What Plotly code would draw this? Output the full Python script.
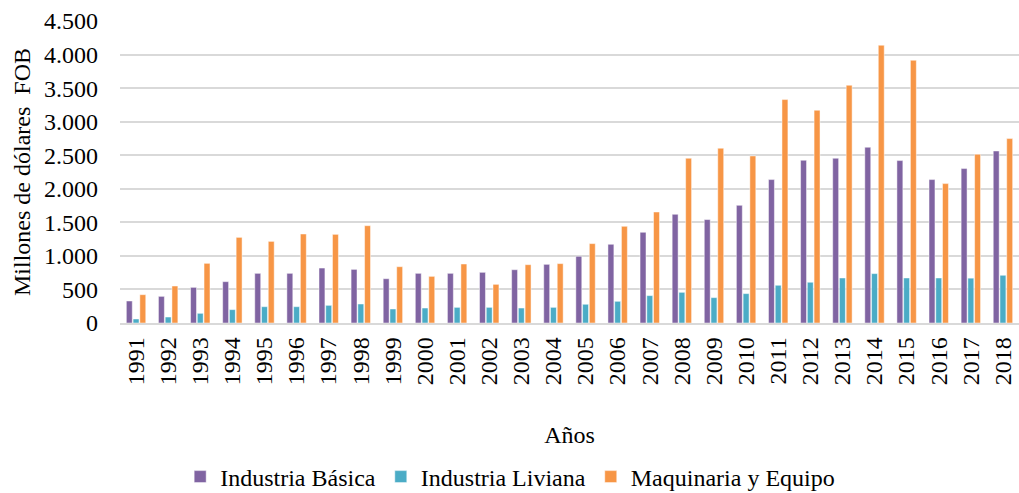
import plotly.graph_objects as go

years = [str(y) for y in range(1991, 2019)]
industria_basica = [328, 397, 531, 616, 740, 740, 819, 799, 660, 740, 740, 755, 794, 874,
                    994, 1173, 1352, 1620, 1541, 1754, 2137, 2425, 2455, 2619, 2420, 2137, 2301, 2563]
industria_liviana = [60, 89, 144, 199, 243, 243, 263, 283, 209, 223, 233, 233, 223, 233,
                     279, 323, 408, 457, 378, 438, 562, 607, 671, 736, 671, 671, 668, 711]
maquinaria_equipo = [422, 551, 889, 1276, 1216, 1326, 1321, 1450, 839, 695, 879, 576, 869, 885,
                     1183, 1441, 1654, 2455, 2604, 2489, 3329, 3170, 3543, 4139, 3915, 2077, 2514, 2748]

series = [
    ("Industria Básica", industria_basica, "#8064A2"),
    ("Industria Liviana", industria_liviana, "#4BACC6"),
    ("Maquinaria y Equipo", maquinaria_equipo, "#F79646"),
]

FONT = "Liberation Serif, Times New Roman, serif"
BLACK = "#000000"

fig = go.Figure()
for name, vals, color in series:
    fig.add_trace(go.Bar(
        x=years, y=vals, name=name,
        marker=dict(color=color, line=dict(color="rgba(255,255,255,0.6)", width=0.8)),
    ))

fig.update_layout(
    width=1019, height=493,
    margin=dict(l=120, r=0, t=21, b=170, autoexpand=False),
    paper_bgcolor="white", plot_bgcolor="white",
    barmode="group", bargap=0.37, bargroupgap=0.12,
    separators=",.",
    font=dict(family=FONT, size=24, color=BLACK),
    showlegend=True,
    legend=dict(
        orientation="h",
        x=0.434, xanchor="center", y=-0.51, yanchor="middle",
        font=dict(family=FONT, size=24, color=BLACK),
        traceorder="normal", itemwidth=30,
    ),
    xaxis=dict(
        type="category", tickangle=-90, showgrid=False, automargin=False,
        showline=True, linecolor="#D9D9D9", linewidth=1.5,
        ticks="", ticklabelstandoff=3,
        tickfont=dict(family=FONT, size=24, color=BLACK),
        title=dict(text="Años", standoff=42, font=dict(family=FONT, size=24, color=BLACK)),
    ),
    yaxis=dict(
        range=[0, 4500], dtick=500, tickformat=",", automargin=False,
        showgrid=True, gridcolor="#D9D9D9", gridwidth=1.5,
        zeroline=False, showline=False, ticks="", ticklabelstandoff=21,
        tickfont=dict(family=FONT, size=24, color=BLACK),
        title=dict(text="Millones de dólares  FOB", standoff=6,
                   font=dict(family=FONT, size=24, color=BLACK)),
    ),
)

fig.write_html(
    "out.html",
    config={"displayModeBar": False},
    post_script="document.body.style.margin='0';document.body.style.overflow='hidden';",
)
